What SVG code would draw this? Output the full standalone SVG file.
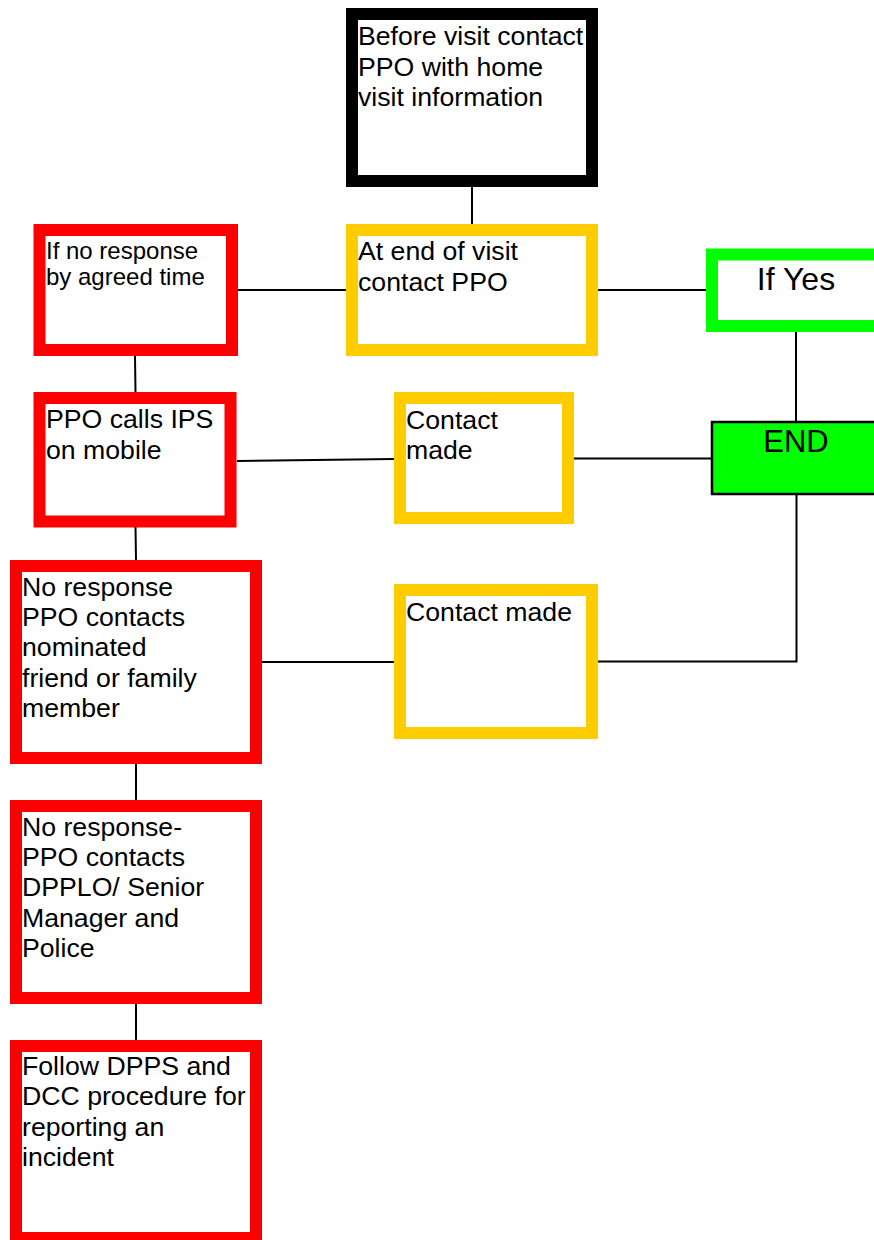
<svg xmlns="http://www.w3.org/2000/svg" width="874" height="1240" viewBox="0 0 874 1240">
<style>
  .box { fill: #ffffff; stroke-width: 12; }
  .black { stroke: #000000; }
  .red { stroke: #ff0000; }
  .yellow { stroke: #ffcc00; }
  .green { stroke: #00ff00; }
  .end { fill: #00ff00; stroke: #000000; stroke-width: 2.5; }
  text { font-family: "Liberation Sans", Arial, sans-serif; fill: #000000; font-size: 26.67px; }
  .small { font-size: 24px; }
  .big { font-size: 32px; text-anchor: middle; }
  .conn { stroke: #000000; stroke-width: 2; fill: none; }
</style>
<rect width="874" height="1240" fill="#ffffff"/>
<g id="connectors">
  <line class="conn" x1="472" y1="187" x2="472" y2="224"/>
  <line class="conn" x1="238" y1="290" x2="346" y2="290"/>
  <line class="conn" x1="598" y1="290" x2="706" y2="290"/>
  <line class="conn" x1="796" y1="332" x2="796" y2="422"/>
  <line class="conn" x1="135" y1="356" x2="135.5" y2="392"/>
  <line class="conn" x1="237" y1="461" x2="394" y2="459"/>
  <line class="conn" x1="574" y1="458.5" x2="712" y2="458.5"/>
  <line class="conn" x1="135.5" y1="527" x2="136" y2="560"/>
  <line class="conn" x1="262" y1="662" x2="394" y2="662"/>
  <polyline class="conn" points="598,661.5 796.5,661.5 796.5,494"/>
  <line class="conn" x1="136" y1="764" x2="136" y2="800"/>
  <line class="conn" x1="136" y1="1004" x2="136" y2="1040"/>
</g>
<g id="node-before">
  <rect class="box black" x="352" y="14" width="240" height="167"/>
  <text x="358" y="45">Before visit contact</text>
  <text x="358" y="75.5">PPO with home</text>
  <text x="358" y="106">visit information</text>
</g>
<g id="node-end-visit">
  <rect class="box yellow" x="352" y="230" width="240" height="120"/>
  <text x="358" y="260">At end of visit</text>
  <text x="358" y="291">contact PPO</text>
</g>
<g id="node-no-response">
  <rect class="box red" x="39.5" y="230" width="192.5" height="120"/>
  <text class="small" x="46" y="259">If no response</text>
  <text class="small" x="46" y="285">by agreed time</text>
</g>
<g id="node-if-yes">
  <rect class="box green" x="712" y="254.5" width="168" height="71.5"/>
  <text class="big" x="796" y="290">If Yes</text>
</g>
<g id="node-ppo-calls">
  <rect class="box red" x="39.5" y="398" width="191" height="123.5"/>
  <text x="46" y="428">PPO calls IPS</text>
  <text x="46" y="459">on mobile</text>
</g>
<g id="node-contact-made-1">
  <rect class="box yellow" x="400" y="398" width="168" height="120"/>
  <text x="406" y="429">Contact</text>
  <text x="406" y="459">made</text>
</g>
<g id="node-end">
  <rect class="end" x="712" y="422" width="170" height="72"/>
  <text class="big" x="796" y="452" style="font-size:31px">END</text>
</g>
<g id="node-friend">
  <rect class="box red" x="16" y="566" width="240" height="192"/>
  <text x="22" y="596">No response</text>
  <text x="22" y="626">PPO contacts</text>
  <text x="22" y="656">nominated</text>
  <text x="22" y="686.5">friend or family</text>
  <text x="22" y="717">member</text>
</g>
<g id="node-contact-made-2">
  <rect class="box yellow" x="400" y="590" width="192" height="143"/>
  <text x="406" y="621">Contact made</text>
</g>
<g id="node-police">
  <rect class="box red" x="16" y="806" width="240" height="192"/>
  <text x="22" y="836">No response-</text>
  <text x="22" y="866">PPO contacts</text>
  <text x="22" y="896">DPPLO/ Senior</text>
  <text x="22" y="926.5">Manager and</text>
  <text x="22" y="957">Police</text>
</g>
<g id="node-follow">
  <rect class="box red" x="16" y="1046" width="240" height="192"/>
  <text x="22" y="1075">Follow DPPS and</text>
  <text x="22" y="1105">DCC procedure for</text>
  <text x="22" y="1135.5">reporting an</text>
  <text x="22" y="1166">incident</text>
</g>
</svg>
